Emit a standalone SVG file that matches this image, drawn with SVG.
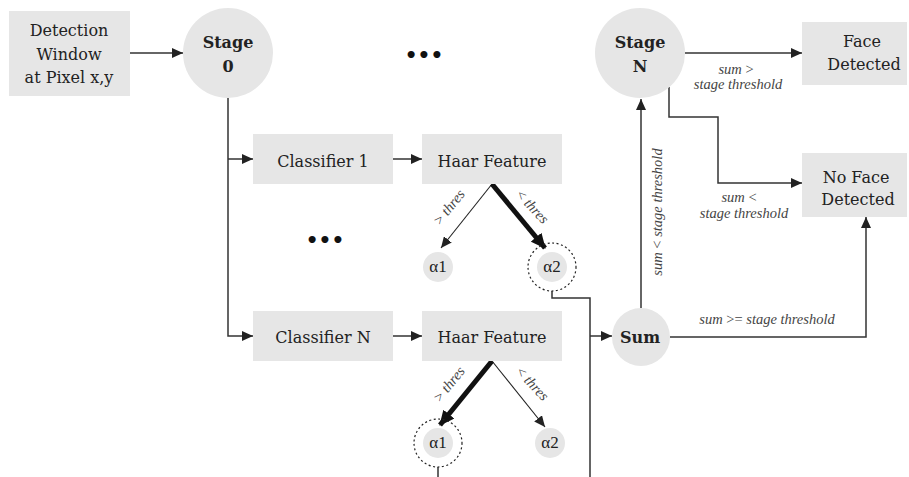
<svg xmlns="http://www.w3.org/2000/svg" width="909" height="477" viewBox="0 0 909 477">
<style>
.box{fill:#e6e6e6;stroke:none}
.circ{fill:#e6e6e6;stroke:none}
.dot{fill:none;stroke:#222;stroke-width:1.2;stroke-dasharray:2 2.5}
.t{font-family:'DejaVu Serif',serif;font-size:16px;fill:#222;text-anchor:middle}
.b{font-weight:bold;font-size:16px}
.a{font-family:'Liberation Serif',serif;font-size:17px}
.l{font-family:'Liberation Serif',serif;font-size:14.5px;font-style:italic;fill:#444;text-anchor:middle}
.c{fill:none;stroke:#333;stroke-width:1.5}
.thin{fill:none;stroke:#222;stroke-width:1.1}
.thick{fill:none;stroke:#111;stroke-width:5}
.e{font-family:'DejaVu Sans',sans-serif;font-size:20px;fill:#111;text-anchor:middle;font-weight:bold}
</style>
<defs>
<marker id="ar" markerUnits="userSpaceOnUse" markerWidth="12" markerHeight="10" refX="11" refY="5" orient="auto">
<path d="M0,0 L11,5 L0,10 z" fill="#222"/>
</marker>
<marker id="arb" markerUnits="userSpaceOnUse" markerWidth="16" markerHeight="14" refX="14" refY="7" orient="auto">
<path d="M0,0 L15,7 L0,14 z" fill="#111"/>
</marker>
</defs>

<g id="connectors">
<path class="c" d="M130,53 H183" marker-end="url(#ar)"/>
<path class="c" d="M228,98 V336 H253" marker-end="url(#ar)"/>
<path class="c" d="M228,159 H253" marker-end="url(#ar)"/>
<path class="c" d="M393,159 H422" marker-end="url(#ar)"/>
<path class="c" d="M393,336 H422" marker-end="url(#ar)"/>
<path class="thin" d="M492,184 L441,248" marker-end="url(#ar)"/>
<path class="thick" d="M492,184 L545,248" marker-end="url(#arb)"/>
<path class="thick" d="M492,361 L440,425" marker-end="url(#arb)"/>
<path class="thin" d="M492,361 L545,427" marker-end="url(#ar)"/>
<path class="c" d="M552,291 V298 H590 V477"/>
<path class="c" d="M590,336 H612" marker-end="url(#ar)"/>
<path class="c" d="M438,467 V477"/>
<path class="c" d="M641,308 V99" marker-end="url(#ar)"/>
<path class="c" d="M685,53 H802" marker-end="url(#ar)"/>
<path class="c" d="M669,87 V117 H718 V183 H802" marker-end="url(#ar)"/>
<path class="c" d="M670,337 H866 V217" marker-end="url(#ar)"/>
<text class="l" transform="translate(453,210) rotate(-51)"><tspan font-style="normal">&gt;</tspan> thres</text>
<text class="l" transform="translate(529,210) rotate(47)"><tspan font-style="normal">&lt;</tspan> thres</text>
<text class="l" transform="translate(453,387) rotate(-51)"><tspan font-style="normal">&gt;</tspan> thres</text>
<text class="l" transform="translate(529,387) rotate(47)"><tspan font-style="normal">&lt;</tspan> thres</text>
<text class="l" transform="translate(662,212) rotate(-90)">sum <tspan font-style="normal">&lt;</tspan> stage threshold</text>
<text class="l" x="736" y="74">sum <tspan font-style="normal">&gt;</tspan></text>
<text class="l" x="738" y="89">stage threshold</text>
<text class="l" x="739" y="202">sum <tspan font-style="normal">&lt;</tspan></text>
<text class="l" x="744" y="218">stage threshold</text>
<text class="l" x="767" y="324">sum <tspan font-style="normal">&gt;=</tspan> stage threshold</text>
</g>

<g id="detection-window">
<rect class="box" x="9" y="11" width="121" height="85"/>
<text class="t" x="69" y="36">Detection</text>
<text class="t" x="69" y="60">Window</text>
<text class="t" x="69" y="83">at Pixel x,y</text>
</g>

<g id="stage-0">
<circle class="circ" cx="228" cy="53" r="45"/>
<text class="t b" x="228" y="48">Stage</text>
<text class="t b" x="228" y="72">0</text>
</g>

<g id="dots-top"><text class="e" x="424" y="62">•••</text></g>
<g id="dots-mid"><text class="e" x="325" y="247">•••</text></g>

<g id="classifier-1">
<rect class="box" x="253" y="134" width="140" height="50"/>
<text class="t" x="323" y="167">Classifier 1</text>
</g>
<g id="haar-1">
<rect class="box" x="422" y="134" width="140" height="50"/>
<text class="t" x="492" y="167">Haar Feature</text>
</g>
<g id="alpha1-top">
<circle class="circ" cx="438" cy="267" r="15"/>
<text class="t a" x="438" y="272">α1</text>
</g>
<g id="alpha2-top">
<circle class="circ" cx="552" cy="267" r="15"/>
<circle class="dot" cx="552" cy="267" r="24"/>
<text class="t a" x="552" y="272">α2</text>
</g>

<g id="classifier-n">
<rect class="box" x="253" y="311" width="140" height="50"/>
<text class="t" x="323" y="343">Classifier N</text>
</g>
<g id="haar-n">
<rect class="box" x="422" y="311" width="140" height="50"/>
<text class="t" x="492" y="343">Haar Feature</text>
</g>
<g id="alpha1-bottom">
<circle class="circ" cx="438" cy="443" r="15"/>
<circle class="dot" cx="438" cy="443" r="24"/>
<text class="t a" x="438" y="448">α1</text>
</g>
<g id="alpha2-bottom">
<circle class="circ" cx="550" cy="443" r="15"/>
<text class="t a" x="550" y="448">α2</text>
</g>

<g id="sum">
<circle class="circ" cx="641" cy="337" r="29"/>
<text class="t b" x="640" y="343">Sum</text>
</g>

<g id="stage-n">
<circle class="circ" cx="640" cy="53" r="45"/>
<text class="t b" x="640" y="48">Stage</text>
<text class="t b" x="640" y="72">N</text>
</g>

<g id="face-detected">
<rect class="box" x="802" y="22" width="105" height="63"/>
<text class="t" x="862" y="47">Face</text>
<text class="t" x="864" y="70">Detected</text>
</g>

<g id="no-face-detected">
<rect class="box" x="802" y="153" width="105" height="64"/>
<text class="t" x="856" y="183">No Face</text>
<text class="t" x="858" y="205">Detected</text>
</g>
</svg>
